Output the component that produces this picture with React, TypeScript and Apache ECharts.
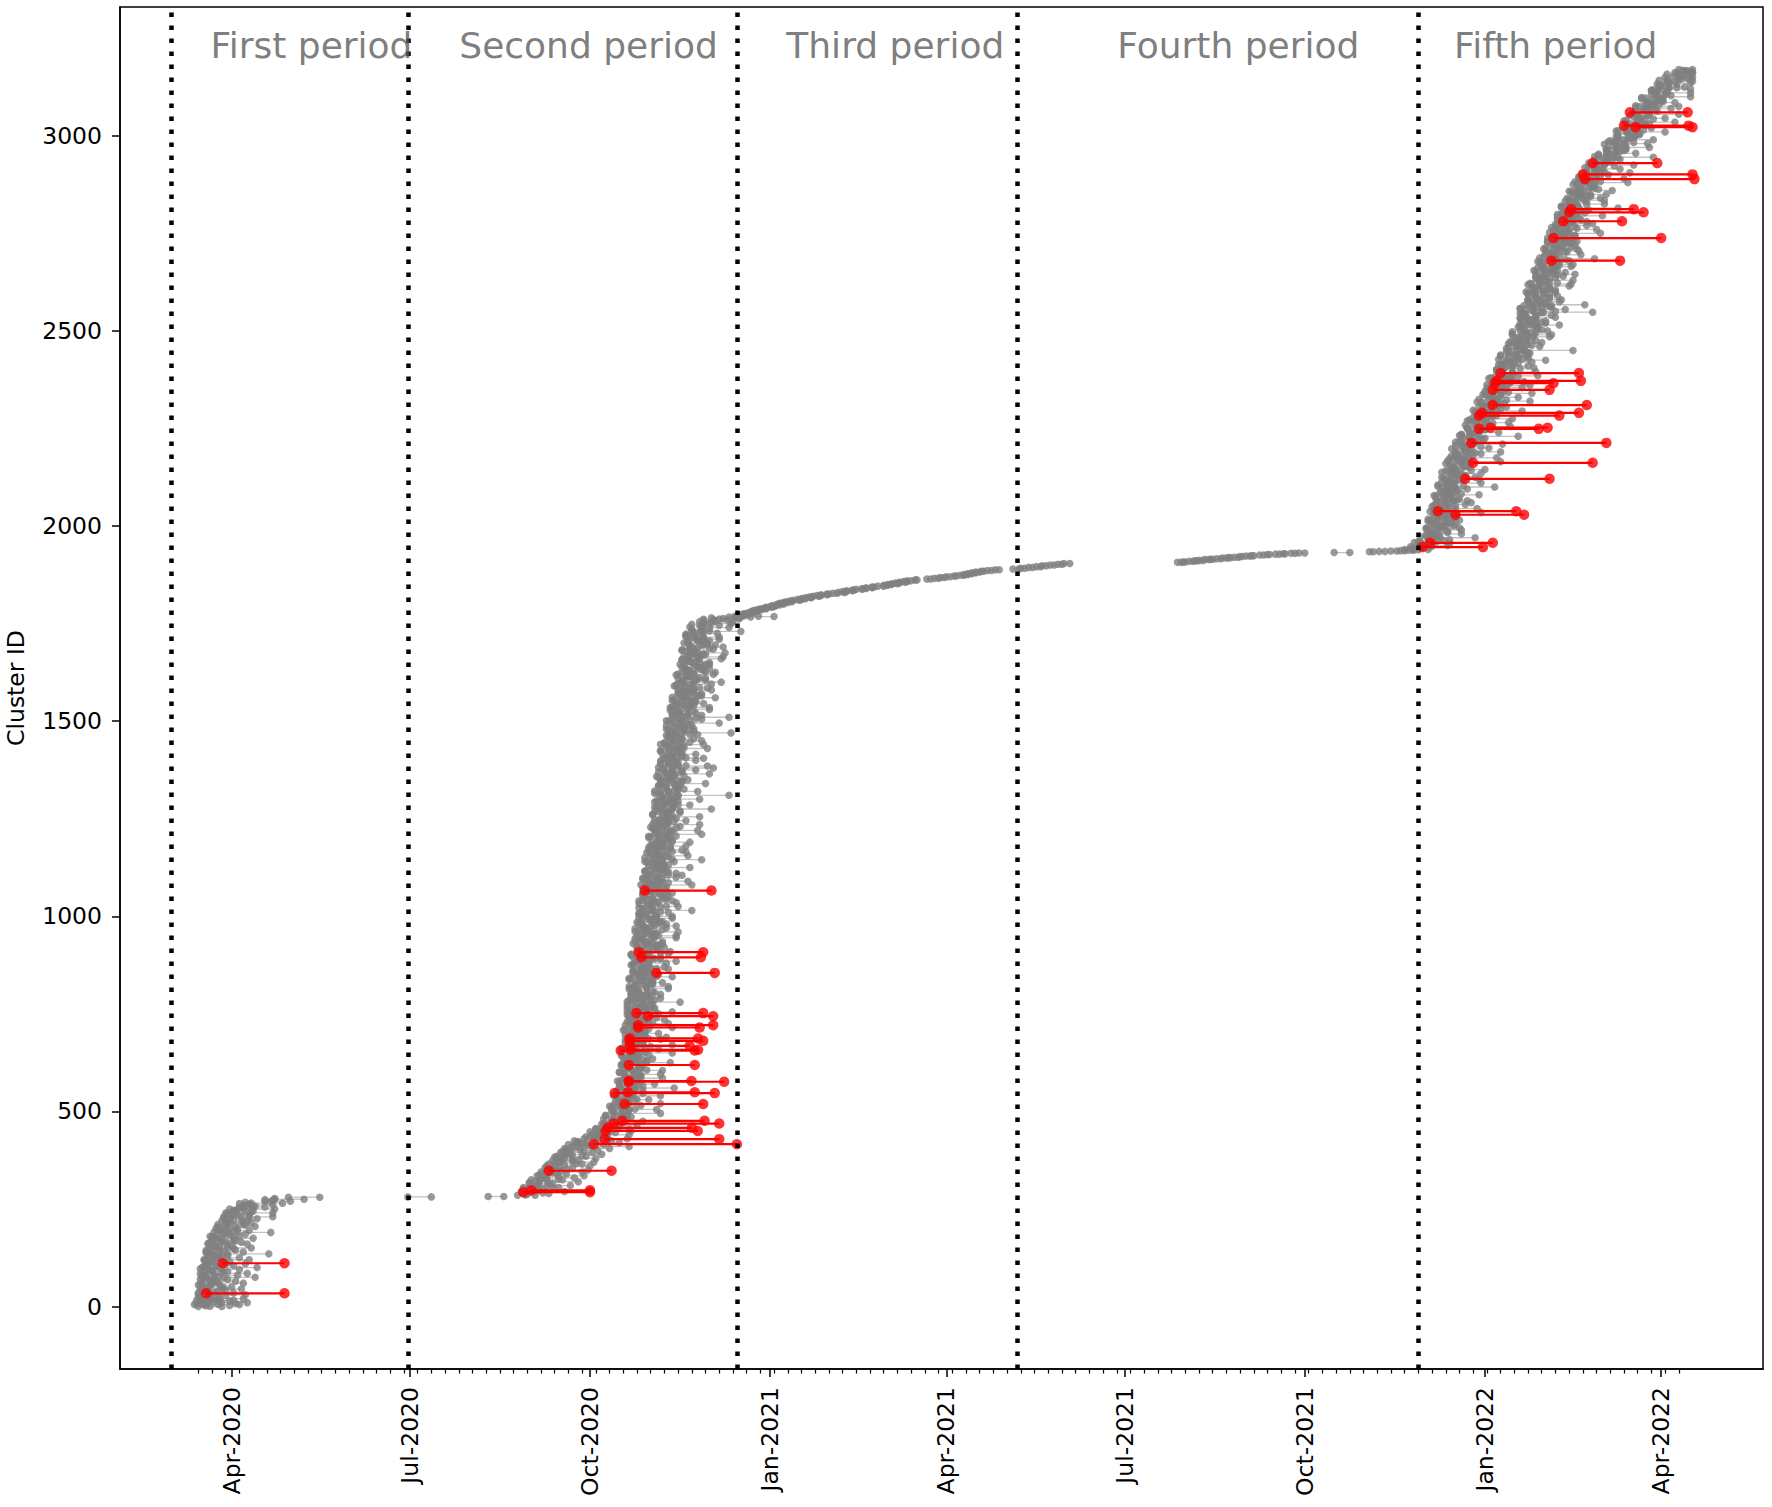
import React, { useEffect, useRef } from "react";
import * as echarts from "echarts";

// x values are day numbers counted from 2020-01-01 (day 0)
const X_MIN = 34;
const X_MAX = 873;
const Y_MIN = -160;
const Y_MAX = 3330;

const QUARTER_TICKS = [91, 182, 274, 366, 456, 547, 639, 731, 821];
const QUARTER_LABELS = ["Apr-2020", "Jul-2020", "Oct-2020", "Jan-2021", "Apr-2021", "Jul-2021", "Oct-2021", "Jan-2022", "Apr-2022"];
const Y_TICKS = [0, 500, 1000, 1500, 2000, 2500, 3000];
// weekly minor ticks (Sundays) from 2020-03-15 to 2022-04-10
const WEEK_FIRST = 74;
const WEEK_LAST = 830;
const WEEK_STEP = 7;

// period boundaries: 2020-03-01, 2020-06-30, 2020-12-15, 2021-05-07, 2021-11-28
const PERIOD_BOUNDS = [60, 181, 349, 492, 697];
const PERIOD_NAMES = ["First period", "Second period", "Third period", "Fourth period", "Fifth period"];
const PERIOD_LABEL_X = [80, 207, 374, 543, 715];
const PERIOD_LABEL_Y = 3232;

// clusters: [clusterId, firstDay, lastDay]
const grayPeriod1 = [
  [0,74,86],[5,72,95],[10,76,99],[15,73,90],[20,78,97],[25,75,84],[30,80,98],[35,74,92],[40,77,88],[45,75,96],
  [50,79,91],[55,74,85],[60,76,97],[65,81,93],[70,75,89],[75,78,103],[80,76,94],[85,82,99],[90,77,87],[95,79,95],
  [100,76,104],[105,83,92],[110,78,98],[115,80,90],[120,77,100],[125,84,95],[130,79,89],[135,81,110],[140,78,97],[145,85,93],
  [150,80,101],[155,82,91],[160,79,99],[165,86,96],[170,81,92],[175,83,102],[180,80,95],[185,87,98],[190,82,111],[195,85,100],
  [200,83,94],[205,88,103],[210,84,97],[215,89,101],[220,86,99],[225,90,104],[230,87,112],[235,91,100],[240,88,112],[245,93,102],
  [250,90,113],[255,95,108],[260,97,112],[265,101,117],[270,108,121],[275,113,128],[280,120,136],
  [281,181,193],[282,222,230]
];

const grayPeriod2 = [
  [285,237,246],[290,241,253],[295,239,261],[300,244,250],[305,240,258],[310,246,264],[315,243,255],[320,248,268],[325,244,260],[330,250,266],
  [335,247,271],[340,252,262],[345,249,270],[350,254,273],[355,251,265],[360,256,274],[365,253,270],[370,258,276],[375,255,268],[380,260,277],
  [385,257,272],[390,262,280],[395,259,275],[400,263,278],[405,261,284],[410,265,294],[415,263,281],[420,268,289],[425,266,285],[430,271,293],
  [435,272,277],[440,280,294],[445,277,279],[450,285,295],[455,277,294],[460,282,289],[465,286,298],[470,281,284],[475,286,301],[480,285,293],
  [485,290,291],[490,282,293],[495,290,310],[500,286,291],[505,294,308],[510,285,287],[515,290,300],[520,293,310],[525,287,294],[530,292,304],
  [535,290,293],[540,295,310],[545,287,295],[550,294,295],[555,290,301],[560,297,317],[565,289,294],[570,293,307],[575,296,298],[580,290,300],
  [585,294,311],[590,292,299],[595,298,310],[600,289,292],[605,296,311],[610,292,300],[615,299,300],[620,290,301],[625,295,315],[630,298,303],
  [635,292,306],[640,296,298],[645,294,304],[650,299,316],[655,290,297],[660,297,309],[665,294,297],[670,301,316],[675,292,300],[680,296,297],
  [685,299,310],[690,293,313],[695,297,302],[700,295,309],[705,300,302],[710,292,302],[715,299,316],[720,295,302],[725,302,314],[730,293,296],
  [735,297,312],[740,300,308],[745,294,295],[750,298,309],[755,296,316],[760,302,307],[765,293,307],[770,300,302],[775,296,306],[780,303,320],
  [785,294,301],[790,298,310],[795,301,304],[800,295,310],[805,299,307],[810,297,298],[815,303,314],[820,294,314],[825,301,306],[830,297,311],
  [835,304,306],[840,295,305],[845,299,316],[850,302,309],[855,296,308],[860,300,303],[865,299,314],[870,304,312],[875,295,296],[880,302,313],
  [885,298,318],[890,305,310],[895,296,310],[900,300,302],[905,304,314],[910,298,315],[915,302,309],[920,300,312],[925,305,308],[930,296,311],
  [935,303,311],[940,299,300],[945,307,318],[950,298,318],[955,302,307],[960,305,319],[965,299,301],[970,303,313],[975,301,318],[980,306,313],
  [985,298,310],[990,305,308],[995,301,316],[1000,308,316],[1005,299,300],[1010,303,314],[1015,306,326],[1020,301,306],[1025,305,319],[1030,303,305],
  [1035,308,318],[1040,299,316],[1045,306,313],[1050,302,314],[1055,310,313],[1060,301,316],[1065,305,313],[1070,308,309],[1075,302,313],[1080,306,326],
  [1085,304,309],[1090,310,324],[1095,301,303],[1100,308,318],[1105,304,321],[1110,311,318],[1115,302,314],[1120,307,310],[1125,310,325],[1130,304,312],
  [1135,308,309],[1140,306,317],[1145,311,331],[1150,302,307],[1155,310,324],[1160,306,308],[1165,313,323],[1170,304,321],[1175,308,315],[1180,311,323],
  [1185,306,309],[1190,310,325],[1195,308,316],[1200,313,314],[1205,304,315],[1210,311,331],[1215,308,313],[1220,315,329],[1225,306,308],[1230,310,320],
  [1235,313,330],[1240,307,314],[1245,311,323],[1250,310,313],[1255,315,330],[1260,306,314],[1265,313,314],[1270,309,320],[1275,316,336],[1280,307,312],
  [1285,311,325],[1290,315,317],[1295,309,319],[1300,313,330],[1305,311,318],[1310,316,345],[1315,307,310],[1320,314,329],[1325,311,319],[1330,318,319],
  [1335,309,320],[1340,313,333],[1345,316,321],[1350,310,324],[1355,314,316],[1360,312,322],[1365,318,335],[1370,309,316],[1375,316,328],[1380,312,337],
  [1385,319,334],[1390,310,318],[1395,314,315],[1400,317,328],[1405,312,332],[1410,316,321],[1415,314,328],[1420,319,321],[1425,310,320],[1430,317,334],
  [1435,313,320],[1440,320,332],[1445,312,315],[1450,316,331],[1455,319,327],[1460,314,315],[1465,318,329],[1470,316,346],[1475,322,327],[1480,313,327],
  [1485,320,322],[1490,316,326],[1495,323,340],[1500,314,321],[1505,319,331],[1510,322,345],[1515,316,331],[1520,320,328],[1525,318,319],[1530,324,335],
  [1535,315,335],[1540,322,327],[1545,318,332],[1550,326,328],[1555,317,327],[1560,321,338],[1565,324,331],[1570,319,331],[1575,323,326],[1580,321,336],
  [1585,326,334],[1590,317,318],[1595,325,336],[1600,321,341],[1605,328,333],[1610,319,333],[1615,323,325],[1620,327,337],[1625,321,338],[1630,325,332],
  [1635,323,335],[1640,329,332],[1645,320,335],[1650,327,335],[1655,323,324],[1660,330,341],[1665,322,342],[1670,326,331],[1675,329,343],[1680,323,325],
  [1685,327,337],[1690,325,342],[1695,331,338],[1700,322,334],[1705,329,332],[1710,325,340],[1715,332,340],[1720,323,324],[1725,328,339],[1730,331,351],
  [1735,326,331],[1740,331,345],[1745,330,332],[1750,336,346],[1755,330,347],[1760,337,344],[1762,340,350],[1765,336,348],[1767,345,356],[1769,348,360]
];

const grayPeriod3 = [
  [1766,349,351],[1768,350,368],[1770,350,353],[1772,351,352],[1774,352,355],[1776,353,354],[1778,355,357],[1780,356,358],[1782,357,360],[1784,358,359],
  [1786,360,362],[1788,361,364],[1790,363,364],[1792,364,367],[1794,366,368],[1796,367,369],[1798,369,371],[1800,370,373],[1802,371,372],[1804,373,375],
  [1806,374,377],[1808,376,377],[1810,378,381],[1812,380,382],[1814,382,384],[1816,384,387],[1818,386,387],[1820,388,391],[1822,390,392],[1824,392,395],
  [1826,395,396],[1828,398,400],[1830,401,404],[1832,403,405],[1834,405,408],[1836,408,409],[1838,410,413],[1840,413,415],[1842,415,418],[1844,418,419],
  [1846,421,424],[1848,424,426],[1850,426,428],[1852,428,431],[1854,430,432],[1856,432,435],[1858,434,436],[1860,436,438],[1862,440,441],[1864,446,448],
  [1866,450,452],[1868,453,455],[1870,456,458],[1872,460,461],[1874,463,465],[1876,465,467],[1878,467,469],[1880,469,471],[1882,471,473],[1884,474,475],
  [1886,477,479],[1888,481,483],[1890,490,493],[1892,494,496],[1894,498,500],[1896,502,504],[1898,505,507],[1900,509,511],[1902,513,515],[1904,516,519]
];

const grayPeriod4 = [
  [1907,574,576],[1908,577,578],[1910,580,582],[1911,583,584],[1912,585,587],[1914,588,590],[1915,591,592],[1916,594,596],[1918,597,599],[1919,600,601],
  [1920,603,605],[1922,606,607],[1923,609,611],[1924,612,613],[1926,616,618],[1927,620,621],[1928,624,626],[1929,628,629],[1930,632,634],[1931,636,639],
  [1932,654,662],[1934,672,674],[1935,677,680],[1936,683,686],[1937,688,690],[1938,692,694],[1939,695,697]
];

const grayPeriod5 = [
  [1940,690,702],[1945,699,702],[1950,697,712],[1955,705,713],[1960,697,698],[1965,702,713],[1970,706,726],[1975,701,706],[1980,705,719],[1985,704,706],
  [1990,709,719],[1995,701,718],[2000,708,715],[2005,704,716],[2010,711,714],[2015,703,718],[2020,707,715],[2025,710,711],[2030,705,716],[2035,709,729],
  [2040,707,712],[2045,713,727],[2050,704,706],[2055,711,721],[2060,707,724],[2065,715,722],[2070,706,718],[2075,710,713],[2080,713,728],[2085,708,716],
  [2090,712,713],[2095,711,722],[2100,716,736],[2105,707,712],[2110,715,729],[2115,711,713],[2120,718,728],[2125,709,726],[2130,714,721],[2135,717,729],
  [2140,712,715],[2145,716,731],[2150,715,723],[2155,720,721],[2160,711,722],[2165,719,739],[2170,715,720],[2175,723,737],[2180,714,716],[2185,719,729],
  [2190,722,739],[2195,716,723],[2200,721,733],[2205,719,722],[2210,725,740],[2215,716,724],[2220,724,725],[2225,720,731],[2230,728,748],[2235,719,724],
  [2240,724,738],[2245,727,729],[2250,722,732],[2255,727,744],[2260,725,732],[2265,731,743],[2270,722,725],[2275,730,745],[2280,727,735],[2285,734,735],
  [2290,726,737],[2295,730,750],[2300,734,739],[2305,728,742],[2310,733,735],[2315,731,741],[2320,737,754],[2325,728,735],[2330,736,748],[2335,732,735],
  [2340,740,755],[2345,731,739],[2350,736,737],[2355,739,750],[2360,734,754],[2365,738,743],[2370,737,751],[2375,742,744],[2380,734,744],[2385,741,758],
  [2390,738,745],[2395,745,757],[2400,737,740],[2405,741,756],[2410,745,753],[2415,739,740],[2420,744,755],[2425,742,762],[2430,748,753],[2435,739,753],
  [2440,747,749],[2445,743,753],[2450,751,776],[2455,742,749],[2460,747,759],[2465,750,753],[2470,745,760],[2475,749,757],[2480,748,749],[2485,753,764],
  [2490,745,765],[2495,752,757],[2500,749,763],[2505,756,758],[2510,748,758],[2515,752,769],[2520,755,762],[2525,750,762],[2530,754,757],[2535,752,767],
  [2540,757,765],[2545,749,750],[2548,760,786],[2550,756,767],[2555,752,772],[2560,760,765],[2565,751,765],[2567,762,782],[2570,755,757],[2575,759,769],
  [2580,753,770],[2585,757,764],[2590,756,768],[2595,761,764],[2600,752,767],[2605,759,767],[2610,756,757],[2615,763,774],[2620,755,775],[2625,759,764],
  [2630,762,776],[2635,757,759],[2640,761,771],[2645,760,777],[2650,765,772],[2655,756,768],[2660,764,767],[2665,760,775],[2670,768,776],[2675,759,760],
  [2680,763,774],[2685,767,787],[2690,761,766],[2695,766,780],[2700,764,766],[2705,769,779],[2710,761,778],[2715,768,775],[2720,765,777],[2725,772,775],
  [2730,763,778],[2735,768,776],[2740,771,772],[2745,766,777],[2750,770,790],[2755,768,773],[2760,774,788],[2765,765,767],[2770,773,783],[2775,769,786],
  [2780,776,783],[2785,768,780],[2790,772,775],[2795,776,791],[2800,770,778],[2805,775,776],[2810,773,784],[2815,779,799],[2820,770,775],[2825,778,792],
  [2830,774,776],[2835,782,792],[2840,773,790],[2845,778,785],[2850,781,793],[2855,776,779],[2860,781,796],[2865,779,787],[2870,785,786],[2875,776,787],
  [2880,784,804],[2885,780,785],[2890,788,802],[2895,779,781],[2900,784,794],[2905,788,805],[2910,783,790],[2915,788,800],[2920,787,790],[2925,792,807],
  [2930,784,792],[2935,792,793],[2940,789,800],[2945,797,817],[2950,789,794],[2955,794,808],[2960,798,800],[2965,793,803],[2970,798,815],[2975,796,803],
  [2980,802,814],[2985,794,797],[2990,802,817],[2995,799,807],[3000,807,808],[3005,799,810],[3010,803,823],[3015,807,812],[3020,802,816],[3025,807,809],
  [3030,805,815],[3035,811,828],[3040,803,810],[3045,811,823],[3050,807,810],[3055,815,830],[3060,807,815],[3065,812,813],[3070,815,826],[3075,810,830],
  [3080,815,820],[3085,814,828],[3090,819,821],[3095,811,821],[3100,819,836],[3105,816,823],[3110,824,836],[3115,816,819],[3120,821,836],[3125,825,833],
  [3130,820,821],[3135,825,836],[3140,824,837],[3145,831,836],[3150,823,837],[3155,831,833],[3160,829,837],[3165,833,836],[3170,830,837]
];

// single-day clusters: [clusterId, day]
const graySingle1 = [
  [1,80],[3,90],[4,77],[6,84],[8,93],[11,86],[13,79],[16,92],[18,83],
  [2,78],[7,73],[12,82],[17,76],[22,85],[27,80],[32,74],[37,82],[42,78],[47,86],[52,76],[57,81],[62,84],[67,80],[72,76],[77,84],
  [82,78],[87,86],[92,81],[97,75],[102,83],[107,79],[112,87],[117,78],[122,83],[127,86],[132,82],[137,78],[142,87],[147,81],[152,89],
  [157,85],[162,79],[167,88],[172,84],[177,92],[182,83],[187,89],[192,92],[197,88],[202,85],[207,93],[212,88],[217,97],[222,92],[227,87],
  [232,96],[237,92],[242,101],[247,92],[252,97],[257,103],[262,100],[267,98],[272,112],[277,113],
  [9,76],[14,85],[19,80],[24,74],[29,88],[34,79],[39,84],[44,76],[49,87],[54,80],[59,75],[64,83],[69,79],[74,87],[79,82],[84,75],
  [89,89],[94,80],[99,85],[104,77],[109,88],[114,81],[119,77],[124,85],[129,80],[134,89],[139,84],[144,78],[149,92],[154,83],[159,89],
  [164,81],[169,93],[174,86],[179,81],[184,90],[189,86],[194,94],[199,90],[204,84],[209,98],[214,90],[219,96],[224,88],[229,100],[234,94],
  [239,89],[244,98],[249,94],[254,102],[259,100],[264,95],[269,111],[274,108]
];

const graySingle2 = [
  [288,242],[293,239],[298,248],[303,243],[308,252],[313,248],[318,243],[323,252],[328,249],[333,258],[338,249],[343,255],[348,259],[353,255],[358,252],
  [363,261],[368,256],[373,265],[378,261],[383,256],[388,265],[393,262],[398,271],[403,262],[408,269],[413,273],[418,270],[423,268],[428,278],[433,274],
  [438,283],[443,279],[448,274],[453,283],[458,280],[463,289],[468,280],[473,286],[478,290],[483,286],[488,282],[493,291],[498,286],[503,294],[508,290],
  [513,284],[518,293],[523,289],[528,297],[533,288],[538,293],[543,296],[548,292],[553,288],[558,296],[563,290],[568,299],[573,294],[578,288],[583,296],
  [588,292],[593,300],[598,291],[603,296],[608,299],[613,294],[618,290],[623,298],[628,293],[633,301],[638,296],[643,290],[648,298],[653,294],[658,302],
  [663,292],[668,298],[673,301],[678,296],[683,292],[688,300],[693,294],[698,302],[703,297],[708,291],[713,300],[718,296],[723,304],[728,294],[733,299],
  [738,302],[743,297],[748,293],[753,301],[758,295],[763,304],[768,299],[773,293],[778,301],[783,297],[788,305],[793,295],[798,300],[803,303],[808,298],
  [813,294],[818,303],[823,297],[828,305],[833,300],[838,294],[843,302],[848,298],[853,306],[858,296],[863,301],[868,305],[873,300],[878,296],[883,304],
  [888,298],[893,306],[898,301],[903,295],[908,304],[913,300],[918,308],[923,298],[928,303],[933,306],[938,301],[943,297],[948,306],[953,300],[958,308],
  [963,303],[968,297],[973,305],[978,301],[983,309],[988,300],[993,305],[998,308],[1003,303],[1008,299],[1013,307],[1018,301],[1023,310],[1028,305],[1033,299],
  [1038,307],[1043,303],[1048,311],[1053,301],[1058,307],[1063,310],[1068,305],[1073,301],[1078,309],[1083,303],[1088,311],[1093,307],[1098,301],[1103,309],[1108,305],
  [1113,313],[1118,303],[1123,309],[1128,312],[1133,307],[1138,303],[1143,311],[1148,305],[1153,314],[1158,309],[1163,303],[1168,311],[1173,307],[1178,315],[1183,305],
  [1188,311],[1193,314],[1198,309],[1203,305],[1208,313],[1213,307],[1218,316],[1223,311],[1228,305],[1233,313],[1238,309],[1243,317],[1248,307],[1253,313],[1258,316],
  [1263,311],[1268,307],[1273,315],[1278,309],[1283,317],[1288,312],[1293,307],[1298,315],[1303,311],[1308,319],[1313,309],[1318,314],[1323,317],[1328,313],[1333,309],
  [1338,317],[1343,311],[1348,319],[1353,314],[1358,308],[1363,316],[1368,313],[1373,321],[1378,311],[1383,316],[1388,319],[1393,314],[1398,310],[1403,318],[1408,313],
  [1413,321],[1418,316],[1423,310],[1428,318],[1433,314],[1438,322],[1443,312],[1448,318],[1453,321],[1458,316],[1463,313],[1468,321],[1473,315],[1478,324],[1483,319],
  [1488,313],[1493,321],[1498,317],[1503,325],[1508,316],[1513,321],[1518,324],[1523,319],[1528,315],[1533,324],[1538,318],[1543,326],[1548,321],[1553,316],[1558,324],
  [1563,320],[1568,328],[1573,319],[1578,324],[1583,327],[1588,322],[1593,318],[1598,327],[1603,321],[1608,329],[1613,324],[1618,318],[1623,327],[1628,323],[1633,331],
  [1638,321],[1643,327],[1648,330],[1653,325],[1658,321],[1663,329],[1668,324],[1673,332],[1678,327],[1683,321],[1688,329],[1693,325],[1698,334],[1703,324],[1708,329],
  [1713,332],[1718,327],[1723,323],[1728,332],[1733,326],[1738,335],[1743,331],[1748,326],[1753,335],[1758,332],[1763,342],
  [286,241],[291,250],[296,246],[301,240],[306,255],[311,247],[316,253],[321,246],[326,258],[331,252],[336,248],[341,257],[346,253],[351,262],[356,258],
  [361,252],[366,267],[371,259],[376,265],[381,258],[386,270],[391,264],[396,260],[401,269],[406,266],[411,275],[416,272],[421,267],[426,283],[431,276],
  [436,282],[441,275],[446,287],[451,281],[456,277],[461,286],[466,282],[471,291],[476,287],[481,281],[486,295],[491,287],[496,293],[501,285],[506,297],
  [511,290],[516,286],[521,294],[526,289],[531,298],[536,293],[541,286],[546,301],[551,292],[556,297],[561,289],[566,301],[571,294],[576,289],[581,297],
  [586,292],[591,300],[596,296],[601,289],[606,303],[611,294],[616,299],[621,291],[626,303],[631,296],[636,291],[641,299],[646,294],[651,302],[656,297],
  [661,290],[666,305],[671,296],[676,301],[681,293],[686,304],[691,297],[696,292],[701,300],[706,295],[711,304],[716,299],[721,292],[726,306],[731,297],
  [736,302],[741,294],[746,305],[751,298],[756,293],[761,302],[766,297],[771,305],[776,300],[781,293],[786,307],[791,298],[796,303],[801,295],[806,306],
  [811,299],[816,295],[821,303],[826,298],[831,306],[836,301],[841,294],[846,308],[851,299],[856,304],[861,296],[866,308],[871,301],[876,296],[881,304],
  [886,299],[891,307],[896,302],[901,295],[906,310],[911,301],[916,306],[921,298],[926,309],[931,302],[936,297],[941,305],[946,301],[951,309],[956,304],
  [961,297],[966,311],[971,302],[976,307],[981,299],[986,311],[991,304],[996,299],[1001,307],[1006,302],[1011,310],[1016,305],[1021,299],[1026,313],[1031,304],
  [1036,309],[1041,301],[1046,312],[1051,305],[1056,301],[1061,309],[1066,304],[1071,312],[1076,307],[1081,300],[1086,314],[1091,306],[1096,311],[1101,303],[1106,314],
  [1111,307],[1116,302],[1121,311],[1126,306],[1131,314],[1136,309],[1141,302],[1146,316],[1151,308],[1156,313],[1161,305],[1166,316],[1171,309],[1176,304],[1181,312],
  [1186,308],[1191,316],[1196,311],[1201,304],[1206,318],[1211,309],[1216,315],[1221,307],[1226,318],[1231,311],[1236,306],[1241,314],[1246,309],[1251,318],[1256,313],
  [1261,306],[1266,320],[1271,311],[1276,316],[1281,308],[1286,319],[1291,313],[1296,308],[1301,316],[1306,311],[1311,319],[1316,314],[1321,307],[1326,322],[1331,313],
  [1336,318],[1341,310],[1346,321],[1351,314],[1356,309],[1361,317],[1366,313],[1371,321],[1376,316],[1381,309],[1386,323],[1391,314],[1396,319],[1401,311],[1406,323],
  [1411,316],[1416,311],[1421,319],[1426,314],[1431,322],[1436,317],[1441,310],[1446,325],[1451,316],[1456,321],[1461,314],[1466,325],[1471,318],[1476,314],[1481,322],
  [1486,317],[1491,325],[1496,320],[1501,313],[1506,328],[1511,319],[1516,324],[1521,316],[1526,327],[1531,321],[1536,316],[1541,324],[1546,319],[1551,328],[1556,323],
  [1561,316],[1566,330],[1571,322],[1576,327],[1581,319],[1586,330],[1591,323],[1596,319],[1601,327],[1606,322],[1611,330],[1616,325],[1621,319],[1626,333],[1631,324],
  [1636,329],[1641,322],[1646,333],[1651,326],[1656,321],[1661,329],[1666,325],[1671,333],[1676,328],[1681,321],[1686,335],[1691,326],[1696,332],[1701,324],[1706,335],
  [1711,328],[1716,323],[1721,331],[1726,327],[1731,335],[1736,331],[1741,325],[1746,340],[1751,332],[1756,338],[1761,332]
];

const graySingle5 = [
  [1942,695],[1947,693],[1952,703],[1957,698],[1962,707],[1967,703],[1972,698],[1977,707],[1982,703],[1987,712],[1992,702],[1997,708],[2002,711],[2007,706],[2012,702],
  [2017,711],[2022,705],[2027,713],[2032,709],[2037,703],[2042,711],[2047,708],[2052,716],[2057,706],[2062,711],[2067,715],[2072,710],[2077,706],[2082,714],[2087,709],
  [2092,717],[2097,713],[2102,707],[2107,715],[2112,712],[2117,720],[2122,710],[2127,715],[2132,719],[2137,714],[2142,711],[2147,719],[2152,714],[2157,722],[2162,717],
  [2167,712],[2172,720],[2177,717],[2182,725],[2187,716],[2192,721],[2197,724],[2202,720],[2207,716],[2212,725],[2217,719],[2222,728],[2227,723],[2232,718],[2237,726],
  [2242,723],[2247,731],[2252,722],[2257,728],[2262,731],[2267,727],[2272,723],[2277,732],[2282,727],[2287,735],[2292,731],[2297,725],[2302,734],[2307,730],[2312,739],
  [2317,729],[2322,735],[2327,738],[2332,734],[2337,730],[2342,739],[2347,733],[2352,742],[2357,737],[2362,732],[2367,740],[2372,737],[2377,745],[2382,736],[2387,741],
  [2392,745],[2397,740],[2402,737],[2407,745],[2412,740],[2417,748],[2422,744],[2427,738],[2432,747],[2437,743],[2442,752],[2447,742],[2452,748],[2457,751],[2462,747],
  [2467,743],[2472,752],[2477,746],[2482,755],[2487,750],[2492,745],[2497,753],[2502,750],[2507,758],[2512,749],[2517,754],[2522,757],[2527,753],[2532,749],[2537,757],
  [2542,751],[2547,760],[2552,755],[2557,749],[2562,758],[2567,754],[2572,762],[2577,753],[2582,758],[2587,761],[2592,757],[2597,753],[2602,761],[2607,755],[2612,764],
  [2617,759],[2622,754],[2627,762],[2632,758],[2637,767],[2642,757],[2647,763],[2652,766],[2657,761],[2662,758],[2667,766],[2672,761],[2677,769],[2682,764],[2687,759],
  [2692,767],[2697,764],[2702,772],[2707,762],[2712,768],[2717,771],[2722,767],[2727,763],[2732,771],[2737,766],[2742,774],[2747,770],[2752,764],[2757,772],[2762,769],
  [2767,777],[2772,768],[2777,773],[2782,776],[2787,772],[2792,768],[2797,777],[2802,771],[2807,780],[2812,775],[2817,770],[2822,778],[2827,775],[2832,783],[2837,774],
  [2842,779],[2847,783],[2852,778],[2857,775],[2862,784],[2867,778],[2872,787],[2877,782],[2882,777],[2887,785],[2892,782],[2897,790],[2902,781],[2907,787],[2912,791],
  [2917,787],[2922,784],[2927,792],[2932,787],[2937,796],[2942,792],[2947,787],[2952,796],[2957,793],[2962,802],[2967,793],[2972,799],[2977,802],[2982,798],[2987,795],
  [2992,804],[2997,799],[3002,808],[3007,804],[3012,798],[3017,807],[3022,804],[3027,813],[3032,803],[3037,809],[3042,813],[3047,809],[3052,805],[3057,814],[3062,809],
  [3067,818],[3072,813],[3077,808],[3082,817],[3087,814],[3092,822],[3097,813],[3102,819],[3107,823],[3112,819],[3117,816],[3122,825],[3127,820],[3132,829],[3137,825],
  [3142,820],[3147,830],[3152,827],[3157,836],[3162,828],[3167,834],
  [1943,694],[1948,704],[1953,701],[1958,695],[1963,710],[1968,702],[1973,708],[1978,701],[1983,712],[1988,706],[1993,701],[1998,710],[2003,705],[2008,713],[2013,708],
  [2018,702],[2023,716],[2028,707],[2033,713],[2038,705],[2043,716],[2048,710],[2053,705],[2058,713],[2063,708],[2068,717],[2073,712],[2078,705],[2083,719],[2088,711],
  [2093,716],[2098,709],[2103,720],[2108,713],[2113,709],[2118,717],[2123,712],[2128,720],[2133,716],[2138,709],[2143,724],[2148,715],[2153,721],[2158,713],[2163,724],
  [2168,718],[2173,713],[2178,722],[2183,717],[2188,726],[2193,721],[2198,714],[2203,729],[2208,720],[2213,726],[2218,718],[2223,730],[2228,723],[2233,719],[2238,727],
  [2243,723],[2248,731],[2253,727],[2258,721],[2263,735],[2268,727],[2273,732],[2278,725],[2283,737],[2288,730],[2293,726],[2298,734],[2303,730],[2308,738],[2313,734],
  [2318,727],[2323,742],[2328,733],[2333,739],[2338,731],[2343,743],[2348,736],[2353,732],[2358,740],[2363,736],[2368,744],[2373,740],[2378,733],[2383,748],[2388,739],
  [2393,745],[2398,737],[2403,749],[2408,742],[2413,738],[2418,746],[2423,742],[2428,750],[2433,746],[2438,739],[2443,754],[2448,745],[2453,751],[2458,743],[2463,755],
  [2468,748],[2473,744],[2478,752],[2483,748],[2488,756],[2493,752],[2498,745],[2503,760],[2508,751],[2513,757],[2518,749],[2523,760],[2528,754],[2533,749],[2538,757],
  [2543,752],[2548,761],[2553,756],[2558,749],[2563,764],[2568,755],[2573,760],[2578,753],[2583,764],[2588,757],[2593,753],[2598,761],[2603,756],[2608,764],[2613,760],
  [2618,753],[2623,768],[2628,759],[2633,764],[2638,757],[2643,768],[2648,762],[2653,757],[2658,765],[2663,761],[2668,769],[2673,765],[2678,758],[2683,772],[2688,764],
  [2693,769],[2698,762],[2703,773],[2708,766],[2713,762],[2718,770],[2723,766],[2728,774],[2733,769],[2738,763],[2743,777],[2748,769],[2753,774],[2758,766],[2763,778],
  [2768,771],[2773,767],[2778,775],[2783,770],[2788,779],[2793,774],[2798,768],[2803,782],[2808,774],[2813,779],[2818,772],[2823,783],[2828,777],[2833,772],[2838,781],
  [2843,776],[2848,785],[2853,780],[2858,774],[2863,789],[2868,780],[2873,786],[2878,778],[2883,790],[2888,783],[2893,779],[2898,787],[2903,783],[2908,792],[2913,788],
  [2918,782],[2923,797],[2928,788],[2933,794],[2938,787],[2943,799],[2948,793],[2953,789],[2958,798],[2963,794],[2968,803],[2973,799],[2978,792],[2983,807],[2988,799],
  [2993,805],[2998,798],[3003,810],[3008,804],[3013,799],[3018,808],[3023,804],[3028,813],[3033,808],[3038,802],[3043,817],[3048,809],[3053,814],[3058,807],[3063,819],
  [3068,813],[3073,808],[3078,817],[3083,813],[3088,822],[3093,817],[3098,811],[3103,826],[3108,818],[3113,824],[3118,817],[3123,829],[3128,823],[3133,819],[3138,828],
  [3143,824],[3148,834],[3153,830],[3158,824],[3163,837],[3168,832]
];

// highlighted clusters: [clusterId, firstDay, lastDay]
const redClusters = [
  [34,78,118],[111,86.5,118],
  [293,240,274],[298,244,274],[348,253,285],[416,276,349],[429,281.5,340],[450,282,329],[458,283,326],[469,286,340],
  [476,290.5,332.5],[519,291.7,331.8],[547,286.6,337.7],[549,293.4,327.5],[576,293.8,342.5],[578,293.8,325.8],[619,293.8,327.5],
  [656,289.7,327.5],[658,294.8,329.2],[668,294.3,324.9],[681,294.3,331.8],[687,294.3,329.2],[715,298.6,330],[721,298.6,336.9],
  [744,303.7,336.9],[752,297.7,331.8],[855,307.9,337.7],[895,300.3,330.6],[908,298.9,331.8],[1066,302,336],
  [1946,699,730],[1957,703,735],[2029,716,751],[2038,707,747],[2121,721,764],[2162,725,786],[2213,724,793],[2249,728,758.5],
  [2252,734,763],[2283,728,769],[2290,729.5,779],[2310,735,783],[2349,735,764],[2366,736,766],[2372,737,780],[2392,739,779],
  [2680,765,800],[2738,766,821],[2781,771,801],[2804,774,812],[2812,775,807],[2889,782,838],[2901,781,837],[2930,786,819],
  [3022,808,837],[3026,802,835],[3060,805,834.5]
];

const FONT = "DejaVu Sans";

export default function App() {
  const ref = useRef<HTMLDivElement>(null);

  useEffect(() => {
    document.body.style.margin = "0";
    if (!ref.current) return;
    const chart = echarts.init(ref.current, null, { renderer: "svg" });

    const singles = [...graySingle1, ...graySingle2, ...graySingle5].map((r) => [r[0], r[1], r[1]]);
    const grayRows = [...grayPeriod1, ...grayPeriod2, ...grayPeriod3, ...grayPeriod4, ...grayPeriod5, ...singles];
    const segData = (rows: number[][]) => rows.filter((r) => r[2] > r[1]).map((r) => [r[1], r[2], r[0]]);
    const dotData = (rows: number[][]) => {
      const out: number[][] = [];
      rows.forEach((r) => {
        out.push([r[1], r[0]]);
        if (r[2] !== r[1]) out.push([r[2], r[0]]);
      });
      return out;
    };
    const weeks: number[] = [];
    for (let d = WEEK_FIRST; d <= WEEK_LAST; d += WEEK_STEP) weeks.push(d);

    const segRender = (color: string, width: number) => (params: any, api: any) => {
      const p1 = api.coord([api.value(0), api.value(2)]);
      const p2 = api.coord([api.value(1), api.value(2)]);
      return {
        type: "line",
        shape: { x1: p1[0], y1: p1[1], x2: p2[0], y2: p2[1] },
        style: { stroke: color, lineWidth: width },
      };
    };

    chart.setOption({
      animation: false,
      backgroundColor: "#ffffff",
      grid: {
        left: 120,
        right: 9,
        top: 7,
        bottom: 138,
        show: true,
        borderColor: "#000",
        borderWidth: 1.5,
        containLabel: false,
        outerBoundsMode: "none",
      },
      xAxis: [
        {
          type: "value",
          min: X_MIN,
          max: X_MAX,
          position: "bottom",
          splitLine: { show: false },
          axisLine: { show: true, onZero: false, lineStyle: { color: "#000", width: 1.5 } },
          axisTick: { show: true, customValues: QUARTER_TICKS, length: 8, lineStyle: { color: "#000", width: 1.5 } },
          axisLabel: {
            show: true,
            customValues: QUARTER_TICKS,
            rotate: 90,
            margin: 18,
            fontSize: 23.5,
            fontFamily: FONT,
            color: "#000",
            formatter: (v: number) => {
              const i = QUARTER_TICKS.indexOf(Math.round(v));
              return i >= 0 ? QUARTER_LABELS[i] : "";
            },
          },
        },
        {
          type: "value",
          min: X_MIN,
          max: X_MAX,
          position: "bottom",
          splitLine: { show: false },
          axisLine: { show: false, onZero: false },
          axisTick: { show: true, customValues: weeks, length: 4.5, lineStyle: { color: "#000", width: 1.2 } },
          axisLabel: { show: false },
        },
      ],
      yAxis: {
        type: "value",
        min: Y_MIN,
        max: Y_MAX,
        name: "Cluster ID",
        nameLocation: "middle",
        nameGap: 92,
        nameRotate: 90,
        nameTextStyle: { fontSize: 23.5, fontFamily: FONT, color: "#000" },
        splitLine: { show: false },
        axisLine: { show: true, onZero: false, lineStyle: { color: "#000", width: 1.5 } },
        axisTick: { show: true, customValues: Y_TICKS, length: 8, lineStyle: { color: "#000", width: 1.5 } },
        axisLabel: {
          show: true,
          customValues: Y_TICKS,
          margin: 18,
          fontSize: 23.5,
          fontFamily: FONT,
          color: "#000",
          formatter: (v: number) => String(v),
        },
      },
      series: [
        {
          type: "custom",
          name: "grayLines",
          silent: true,
          progressive: 0,
          renderItem: segRender("#c2c2c2", 1.3),
          encode: { x: [0, 1], y: 2 },
          data: segData(grayRows),
          z: 1,
        },
        {
          type: "scatter",
          name: "grayDots",
          silent: true,
          progressive: 0,
          large: false,
          symbol: "circle",
          symbolSize: 7.5,
          itemStyle: { color: "#808080" },
          data: dotData(grayRows),
          z: 2,
        },
        {
          type: "custom",
          name: "redLines",
          silent: true,
          progressive: 0,
          renderItem: segRender("#ff0000", 2.2),
          encode: { x: [0, 1], y: 2 },
          data: segData(redClusters),
          z: 3,
        },
        {
          type: "scatter",
          name: "redDots",
          silent: true,
          progressive: 0,
          symbol: "circle",
          symbolSize: 10.5,
          itemStyle: { color: "#ff0000" },
          data: dotData(redClusters),
          z: 4,
        },
        {
          type: "scatter",
          name: "periods",
          silent: true,
          symbol: "circle",
          symbolSize: 1,
          itemStyle: { color: "rgba(0,0,0,0)" },
          data: PERIOD_LABEL_X.map((x, i) => [x, PERIOD_LABEL_Y, PERIOD_NAMES[i]]),
          label: {
            show: true,
            position: "right",
            distance: 0,
            formatter: (p: any) => p.data[2],
            fontSize: 36,
            fontFamily: FONT,
            color: "#5c5c5c",
          },
          markLine: {
            silent: true,
            symbol: ["none", "none"],
            label: { show: false },
            lineStyle: { color: "#000", width: 4.5, type: [4.5, 8.5] },
            data: PERIOD_BOUNDS.map((b) => ({ xAxis: b })),
          },
          z: 6,
        },
      ],
    });

    return () => {
      chart.dispose();
    };
  }, []);

  return <div ref={ref} style={{ width: 1772, height: 1507 }} />;
}
